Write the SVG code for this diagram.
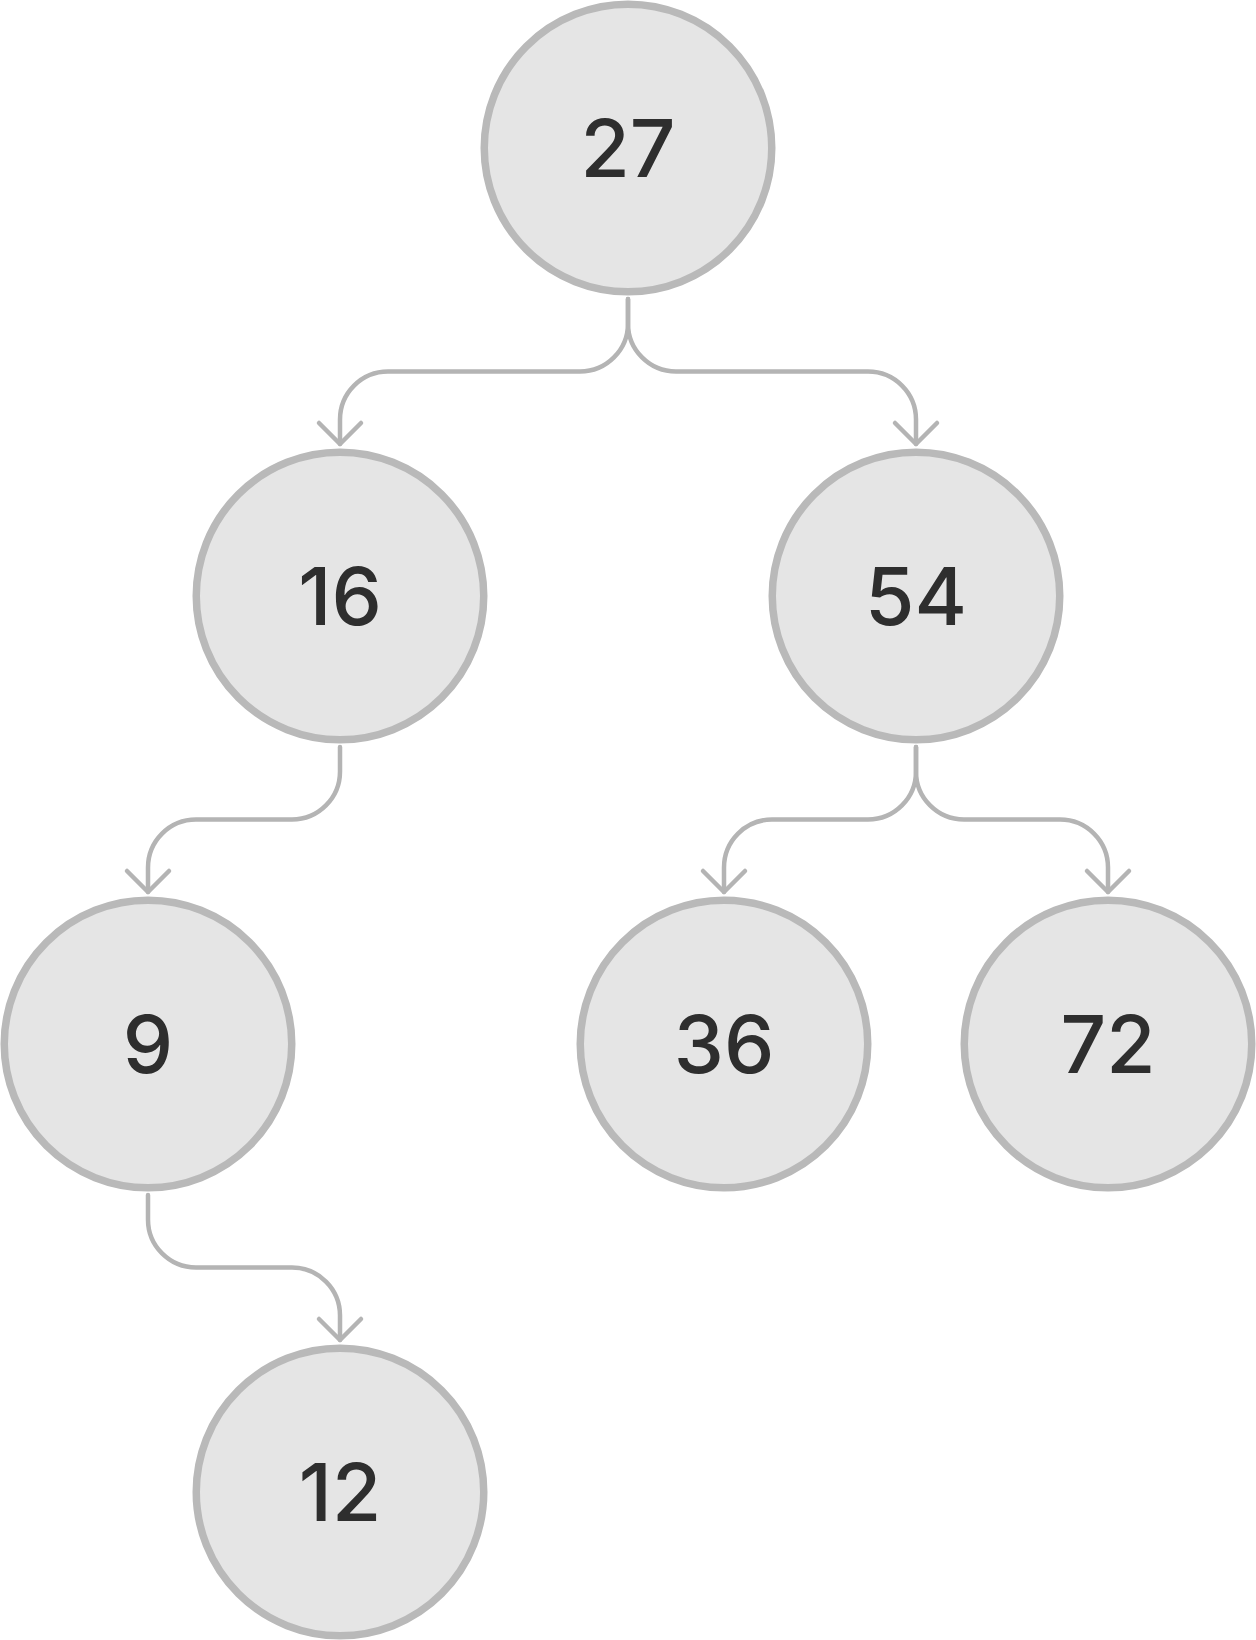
<svg xmlns="http://www.w3.org/2000/svg" width="1256" height="1640" viewBox="0 0 1256 1640">
<defs>
<style>
.node circle{fill:#e5e5e5;stroke:#b9b9b9;stroke-width:7.5}
.node text{font-family:Inter,"Liberation Sans",sans-serif;font-size:80px;font-weight:500;fill:#2e2e2e;text-anchor:middle}
.edge{fill:none;stroke:#b4b4b4;stroke-width:4.5;stroke-linecap:round;stroke-linejoin:round;marker-end:url(#arrow)}
</style>
<marker id="arrow" markerUnits="userSpaceOnUse" orient="auto" refX="0" refY="0" markerWidth="60" markerHeight="60" viewBox="-30 -30 60 60" overflow="visible">
<path d="M-21,-21 L0,0 L-21,21" fill="none" stroke="#b4b4b4" stroke-width="4.5" stroke-linecap="round" stroke-linejoin="round"/>
</marker>
</defs>
<rect width="1256" height="1640" fill="#ffffff"/>
<g id="connectors">
<path class="edge" d="M628,299 V323.5 A48 48 0 0 1 580 371.5 H388 A48 48 0 0 0 340 419.5 V444"/>
<path class="edge" d="M628,299 V323.5 A48 48 0 0 0 676 371.5 H868 A48 48 0 0 1 916 419.5 V444"/>
<path class="edge" d="M340,747 V771.5 A48 48 0 0 1 292 819.5 H196 A48 48 0 0 0 148 867.5 V892"/>
<path class="edge" d="M916,747 V771.5 A48 48 0 0 1 868 819.5 H772 A48 48 0 0 0 724 867.5 V892"/>
<path class="edge" d="M916,747 V771.5 A48 48 0 0 0 964 819.5 H1060 A48 48 0 0 1 1108 867.5 V892"/>
<path class="edge" d="M148,1195 V1219.5 A48 48 0 0 0 196 1267.5 H292 A48 48 0 0 1 340 1315.5 V1340"/>
</g>
<g id="n27" class="node"><circle cx="628" cy="148" r="143.75"/><text x="628" y="177">27</text></g>
<g id="n16" class="node"><circle cx="340" cy="596" r="143.75"/><text x="340" y="625">16</text></g>
<g id="n54" class="node"><circle cx="916" cy="596" r="143.75"/><text x="916" y="625">54</text></g>
<g id="n9" class="node"><circle cx="148" cy="1044" r="143.75"/><text x="148" y="1073">9</text></g>
<g id="n36" class="node"><circle cx="724" cy="1044" r="143.75"/><text x="724" y="1073">36</text></g>
<g id="n72" class="node"><circle cx="1108" cy="1044" r="143.75"/><text x="1108" y="1073">72</text></g>
<g id="n12" class="node"><circle cx="340" cy="1492" r="143.75"/><text x="340" y="1521">12</text></g>
</svg>
